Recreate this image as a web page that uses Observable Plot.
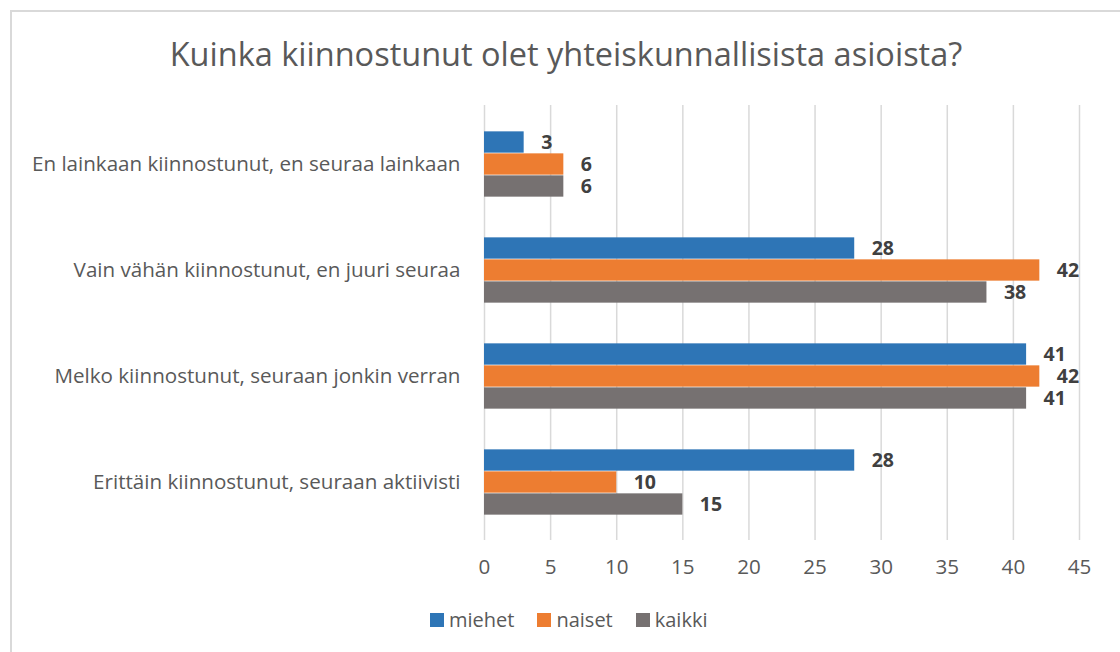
<!DOCTYPE html>
<html>
<head>
<meta charset="utf-8">
<script src="https://cdn.jsdelivr.net/npm/d3@7"></script>
<script src="https://cdn.jsdelivr.net/npm/@observablehq/plot@0.6"></script>
<style>
  html, body { margin: 0; padding: 0; background: #fff; }
  body { width: 1120px; height: 652px; overflow: hidden; position: relative; font-family: "Open Sans", sans-serif; }
  #frame { position: absolute; left: 10px; top: 10px; width: 1130px; height: 660px; border-left: 2px solid #d9d9d9; border-top: 2px solid #d9d9d9; }
  #title { position: absolute; left: 10px; width: 1112px; top: 32px; text-align: center; font-size: 32.5px; color: #595959; line-height: 44px; }
  #chart { position: absolute; left: 0; top: 100px; }
  #legend { position: absolute; top: 606px; left: 430px; display: flex; font-size: 20px; color: #595959; align-items: center; line-height: 28px; }
  #legend span.item { display: flex; align-items: center; margin-right: 23px; }
  #legend span.sw { display: inline-block; width: 14px; height: 14px; margin-right: 5px; }
</style>
</head>
<body>
<div id="frame"></div>
<div id="title">Kuinka kiinnostunut olet yhteiskunnallisista asioista?</div>
<div id="chart"></div>
<div id="legend"></div>
<script>
const categories = [
  "En lainkaan kiinnostunut, en seuraa lainkaan",
  "Vain vähän kiinnostunut, en juuri seuraa",
  "Melko kiinnostunut, seuraan jonkin verran",
  "Erittäin kiinnostunut, seuraan aktiivisti"
];
const series = ["miehet", "naiset", "kaikki"];
const miehet = [3, 28, 41, 28];
const naiset = [6, 42, 42, 10];
const kaikki = [6, 38, 41, 15];
const colors = ["#2E75B6", "#ED7D31", "#767171"];
const xTicks = [0, 5, 10, 15, 20, 25, 30, 35, 40, 45];

const valuesBySeries = [miehet, naiset, kaikki];
const data = [];
series.forEach((s, i) => categories.forEach((c, j) => data.push({category: c, series: s, value: valuesBySeries[i][j]})));

const marginTop = 5, plotH = 435;
const pOuter = 0.0385;
const step = plotH / (categories.length + 2 * pOuter);
const barH = 22;
const groupOff = (step - barH * series.length) / 2;

const marks = [
  Plot.gridX(xTicks, {stroke: "#d9d9d9", strokeOpacity: 1, strokeWidth: 1.5})
];
series.forEach((s, i) => {
  const d = data.filter(r => r.series === s);
  marks.push(Plot.barX(d, {
    x: "value", y: "category", fill: colors[i],
    insetTop: groupOff + barH * i,
    insetBottom: step - groupOff - barH * (i + 1)
  }));
  marks.push(Plot.text(d, {
    x: "value", y: "category", text: d => String(d.value),
    dy: (i - 1) * barH, dx: 17, textAnchor: "start", lineHeight: 1,
    fill: "#404040", fontWeight: "bold", fontSize: 19.5
  }));
});

const chart = Plot.plot({
  width: 1120,
  height: 490,
  marginTop: marginTop,
  marginBottom: 50,
  marginLeft: 484,
  marginRight: 41,
  style: {fontFamily: "'Open Sans', sans-serif", fontSize: "20.6px", color: "#595959", background: "transparent"},
  x: {domain: [0, 45], ticks: xTicks, tickSize: 0, tickPadding: 19, label: null},
  y: {domain: categories, paddingInner: 0, paddingOuter: pOuter, tickSize: 0, tickPadding: 24, label: null},
  marks
});
document.getElementById("chart").appendChild(chart);

const legend = document.getElementById("legend");
series.forEach((s, i) => {
  const item = document.createElement("span");
  item.className = "item";
  item.innerHTML = `<span class="sw" style="background:${colors[i]}"></span>${s}`;
  legend.appendChild(item);
});
</script>
</body>
</html>
